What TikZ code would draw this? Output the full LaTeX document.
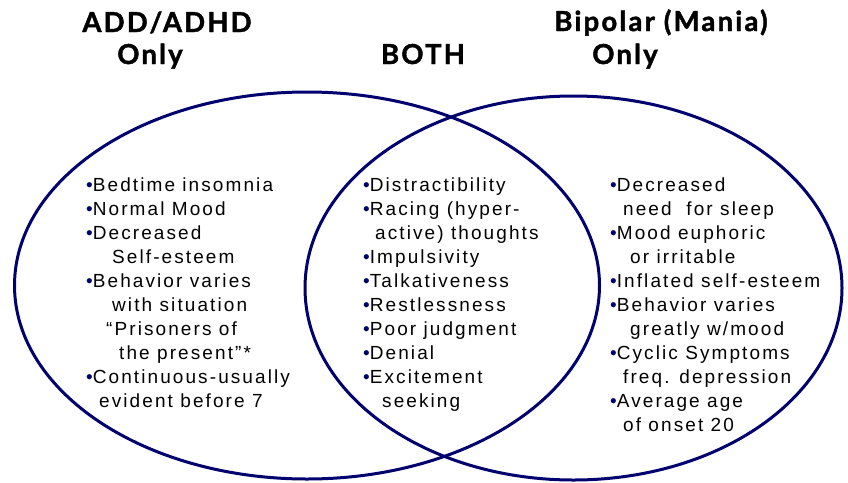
\documentclass[tikz,border=0pt]{standalone}
\usepackage{fontspec}
\setmainfont{Liberation Sans}[LetterSpace=11]
\newfontfamily\headfont{Lato}[BoldFeatures={FakeBold=1.5}, LetterSpace=8]
\definecolor{navy}{RGB}{0,0,110}
\newcommand\bul{\textcolor{navy}{•}}
\begin{document}
\begin{tikzpicture}[x=1pt,y=-1pt,
  ln/.style={anchor=base west, inner sep=0pt, font=\fontsize{19}{24}\selectfont},
  hd/.style={anchor=base, inner sep=0pt, font=\headfont\bfseries\fontsize{27.5}{30}\selectfont},
  ring/.style={draw=navy, line width=3pt}]
\useasboundingbox (0,0) rectangle (848,482);
\draw[ring] (307,285.5) ellipse [x radius=292.5pt, y radius=193.5pt];
\draw[ring] (573.5,288) ellipse [x radius=268.5pt, y radius=192pt];
% headers
\node[hd] (h1) at (167,32) {ADD/ADHD};
\node[hd] (h2) at (150,64) {Only};
\node[hd] (h3) at (423,64) {BOTH};
\node[hd] (h4) at (661,31) {Bipolar (Mania)};
\node[hd] (h5) at (625,64) {Only};
% left
\node[ln] (a1) at (86,191) {\bul Bedtime insomnia};
\node[ln] (a2) at (86,215) {\bul Normal Mood};
\node[ln] (a3) at (86,239) {\bul Decreased};
\node[ln] (a4) at (112,263) {Self-esteem};
\node[ln] (a5) at (86,287) {\bul Behavior varies};
\node[ln] (a6) at (112,311) {with situation};
\node[ln] (a7) at (106,335) {“Prisoners of};
\node[ln] (a8) at (119,359) {the present”*};
\node[ln] (a9) at (86,383) {\bul Continuous-usually};
\node[ln] (a10) at (99,407) {evident before 7};
% middle
\node[ln] (b1) at (363,191) {\bul Distractibility};
\node[ln] (b2) at (363,215) {\bul Racing (hyper-};
\node[ln] (b3) at (375,239) {active) thoughts};
\node[ln] (b4) at (363,263) {\bul Impulsivity};
\node[ln] (b5) at (363,287) {\bul Talkativeness};
\node[ln] (b6) at (363,311) {\bul Restlessness};
\node[ln] (b7) at (363,335) {\bul Poor judgment};
\node[ln] (b8) at (363,359) {\bul Denial};
\node[ln] (b9) at (363,383) {\bul Excitement};
\node[ln] (b10) at (382,407) {seeking};
% right
\node[ln] (c1) at (610,191) {\bul Decreased};
\node[ln] (c2) at (623,215) {need\ \ for sleep};
\node[ln] (c3) at (610,239) {\bul Mood euphoric};
\node[ln] (c4) at (630,263) {or irritable};
\node[ln] (c5) at (610,287) {\bul Inflated self-esteem};
\node[ln] (c6) at (610,311) {\bul Behavior varies};
\node[ln] (c7) at (630,335) {greatly w/mood};
\node[ln] (c8) at (610,359) {\bul Cyclic Symptoms};
\node[ln] (c9) at (623,383) {freq. depression};
\node[ln] (c10) at (610,407) {\bul Average age};
\node[ln] (c11) at (623,431) {of onset 20};
\end{tikzpicture}
\end{document}
